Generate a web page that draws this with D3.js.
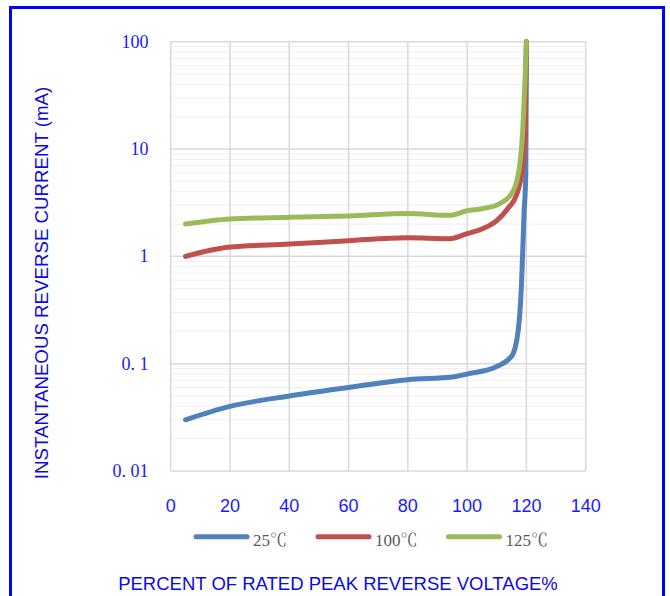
<!DOCTYPE html>
<html>
<head>
<meta charset="utf-8">
<script src="https://cdn.jsdelivr.net/npm/d3@7.9.0/dist/d3.min.js"></script>
<style>
  body { margin: 0; background: #fff; }
  svg { display: block; }
</style>
</head>
<body>
<svg id="chart" width="670" height="596"></svg>
<script>
// series (x = % of rated peak reverse voltage, y = mA)
const voltage25 = [5, 20, 40, 60, 80, 95, 100, 110, 114, 115.6, 117.6, 118.4, 119.2, 119.8, 120];
const current25 = [0.03, 0.04, 0.05, 0.06, 0.071, 0.075, 0.08, 0.094, 0.11, 0.125, 0.255, 0.6, 2.5, 6, 100];

const voltage100 = [5, 20, 40, 60, 80, 94, 100, 105, 110, 114, 116.6, 118.9, 119.6, 120];
const current100 = [1.0, 1.22, 1.3, 1.4, 1.49, 1.46, 1.63, 1.8, 2.15, 2.85, 3.7, 7.3, 14, 100];

const voltage125 = [5, 20, 40, 60, 80, 94, 100, 105, 110.5, 115.6, 117.8, 118.7, 119.5, 120];
const current125 = [2.0, 2.23, 2.31, 2.38, 2.51, 2.41, 2.66, 2.78, 3.05, 4.1, 7.3, 14.2, 43, 100];

const seriesNames = ['25℃', '100℃', '125℃'];
const seriesColors = ['#4f81bd', '#c0504d', '#9bbb59'];

const xTicks = [0, 20, 40, 60, 80, 100, 120, 140];
const yTicks = [0.01, 0.1, 1, 10, 100];
const yTickLabels = ['0. 01', '0. 1', '1', '10', '100'];

const svg = d3.select('#chart');

// outer blue frame
svg.append('rect')
  .attr('x', 10.5).attr('y', 7.5)
  .attr('width', 653).attr('height', 620)
  .attr('fill', 'none')
  .attr('stroke', '#0000ff')
  .attr('stroke-width', 3);

const x = d3.scaleLinear().domain([0, 140]).range([170.7, 585.7]);
const y = d3.scaleLog().domain([0.01, 100]).range([471, 41.7]);

const grid = svg.append('g');

// minor horizontal grid (2..9 of each decade)
const minor = [];
[0.01, 0.1, 1, 10].forEach(d => {
  for (let k = 2; k <= 9; k++) minor.push(d * k);
});
grid.selectAll('line.minor')
  .data(minor)
  .join('line')
  .attr('class', 'minor')
  .attr('x1', x(0)).attr('x2', x(140))
  .attr('y1', d => y(d)).attr('y2', d => y(d))
  .attr('stroke', '#efefef')
  .attr('stroke-width', 1);

// major grid
grid.selectAll('line.hmajor')
  .data(yTicks)
  .join('line')
  .attr('class', 'hmajor')
  .attr('x1', x(0)).attr('x2', x(140))
  .attr('y1', d => y(d)).attr('y2', d => y(d))
  .attr('stroke', '#d9d9d9')
  .attr('stroke-width', 1.5);

grid.selectAll('line.vmajor')
  .data(xTicks)
  .join('line')
  .attr('class', 'vmajor')
  .attr('x1', d => x(d)).attr('x2', d => x(d))
  .attr('y1', y(100)).attr('y2', y(0.01))
  .attr('stroke', '#d9d9d9')
  .attr('stroke-width', 1.5);

// tick labels
svg.append('g')
  .selectAll('text')
  .data(yTicks)
  .join('text')
  .attr('x', 148.5)
  .attr('y', d => y(d) + 6)
  .attr('text-anchor', 'end')
  .attr('font-family', '"Liberation Serif", "Times New Roman", serif')
  .attr('font-size', 18)
  .attr('fill', '#1a1aff')
  .text((d, i) => yTickLabels[i]);

svg.append('g')
  .selectAll('text')
  .data(xTicks)
  .join('text')
  .attr('x', d => x(d))
  .attr('y', 511.5)
  .attr('text-anchor', 'middle')
  .attr('font-family', '"Liberation Sans", Arial, sans-serif')
  .attr('font-size', 18)
  .attr('fill', '#1a1aff')
  .text(d => d);

// series lines
const series = [
  { name: seriesNames[0], xs: voltage25, ys: current25 },
  { name: seriesNames[1], xs: voltage100, ys: current100 },
  { name: seriesNames[2], xs: voltage125, ys: current125 }
];

const line = d3.line()
  .x(d => x(d[0]))
  .y(d => y(d[1]))
  .curve(d3.curveMonotoneX);

series.forEach((s, i) => {
  svg.append('path')
    .datum(d3.zip(s.xs, s.ys))
    .attr('d', line)
    .attr('fill', 'none')
    .attr('stroke', seriesColors[i])
    .attr('stroke-width', 5)
    .attr('stroke-linecap', 'round')
    .attr('stroke-linejoin', 'round');
});

// legend
const legend = svg.append('g');
let lx = 194;
series.forEach((s, i) => {
  legend.append('line')
    .attr('x1', lx + 2).attr('x2', lx + 53)
    .attr('y1', 536.7).attr('y2', 536.7)
    .attr('stroke', seriesColors[i])
    .attr('stroke-width', 5)
    .attr('stroke-linecap', 'round');
  const t = legend.append('text')
    .attr('x', lx + 59)
    .attr('y', 546)
    .attr('font-family', '"Liberation Serif", "Noto Serif CJK SC", "Noto Sans CJK SC", serif')
    .attr('font-size', 17)
    .attr('fill', '#595959')
    .text(s.name);
  lx += 59 + t.node().getComputedTextLength() + 29;
});

// axis titles
svg.append('text')
  .attr('transform', 'translate(47.5,283) rotate(-90)')
  .attr('text-anchor', 'middle')
  .attr('font-family', '"Liberation Sans", Arial, sans-serif')
  .attr('font-size', 18.7)
  .attr('fill', '#0a0ae6')
  .text('INSTANTANEOUS REVERSE CURRENT (mA)');

svg.append('text')
  .attr('x', 338)
  .attr('y', 590)
  .attr('text-anchor', 'middle')
  .attr('font-family', '"Liberation Sans", Arial, sans-serif')
  .attr('font-size', 18.5)
  .attr('fill', '#0a0ae6')
  .text('PERCENT OF RATED PEAK REVERSE VOLTAGE%');
</script>
</body>
</html>
